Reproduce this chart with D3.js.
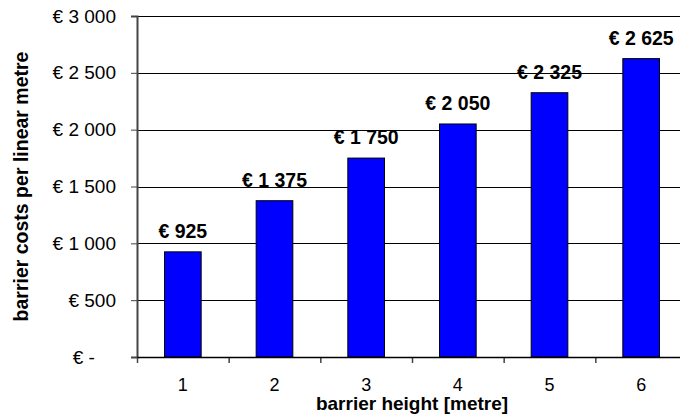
<!DOCTYPE html>
<html>
<head>
<meta charset="utf-8">
<script src="https://cdn.jsdelivr.net/npm/d3@7"></script>
<style>
  body { margin: 0; background: #fff; }
  svg { display: block; font-family: "Liberation Sans", Arial, sans-serif; }
</style>
</head>
<body>
<svg width="680" height="419"></svg>
<script>
// barrier height [metre] -> cost per linear metre
const heights = [1, 2, 3, 4, 5, 6];
const costs = [925, 1375, 1750, 2050, 2325, 2625];
const yTicks = [0, 500, 1000, 1500, 2000, 2500, 3000];

const svg = d3.select("svg");
const margin = {top: 16, right: -7, bottom: 62, left: 137};
const width = +svg.attr("width");
const height = +svg.attr("height");

const x = d3.scaleBand()
    .domain(heights)
    .range([margin.left, width - margin.right])
    .paddingInner(0.6)
    .paddingOuter(0.3);
// category edges, used for the tick marks between bars
const xEdge = d3.scaleLinear()
    .domain([0.5, heights.length + 0.5])
    .range([margin.left, width - margin.right]);
const y = d3.scaleLinear()
    .domain([0, 3000])
    .range([height - margin.bottom, margin.top]);

const euro = v => v === 0 ? "€ -" : "€ " + d3.format(",")(v).replace(/,/g, " ");

// gridlines
svg.append("g")
    .selectAll("line")
    .data(yTicks.filter(d => d > 0))
    .join("line")
    .attr("x1", margin.left)
    .attr("x2", width - margin.right)
    .attr("y1", d => Math.round(y(d)) + 0.5)
    .attr("y2", d => Math.round(y(d)) + 0.5)
    .attr("stroke", "#000")
    .attr("stroke-width", 1);

// bars
svg.append("g")
    .selectAll("rect")
    .data(costs)
    .join("rect")
    .attr("x", (d, i) => x(heights[i]))
    .attr("y", d => y(d))
    .attr("width", x.bandwidth())
    .attr("height", d => y(0) - y(d))
    .attr("fill", "#0000ff")
    .attr("stroke", "#000")
    .attr("stroke-width", 1);

// value labels
svg.append("g")
    .selectAll("text")
    .data(costs)
    .join("text")
    .attr("x", (d, i) => x(heights[i]) + x.bandwidth() / 2)
    .attr("y", d => y(d) - 14)
    .attr("text-anchor", "middle")
    .style("font-size", "19.5px")
    .style("font-weight", "bold")
    .text(euro);

// y axis
const yAxis = svg.append("g")
    .attr("transform", `translate(${margin.left},0)`)
    .call(d3.axisLeft(y).tickValues(yTicks).tickSize(6).tickPadding(15).tickFormat(euro));
yAxis.select(".domain").attr("stroke", "#444").attr("stroke-width", 2);
yAxis.selectAll(".tick line").attr("stroke", "#444");
yAxis.selectAll("text")
    .style("font-size", "19px")
    .attr("fill", "#000")
    .attr("font-family", null);
// accounting format keeps the dash two digits in from the right
yAxis.selectAll(".tick text")
    .filter(d => d === 0)
    .append("tspan")
    .attr("fill-opacity", 0)
    .text("00");

// x axis: tick marks at category edges, labels under the bars
const xTickAxis = svg.append("g")
    .attr("transform", `translate(0,${y(0)})`)
    .call(d3.axisBottom(xEdge).tickValues(d3.range(0.5, heights.length + 1, 1)).tickSize(6).tickFormat(""));
xTickAxis.select(".domain").remove();
xTickAxis.selectAll(".tick line").attr("stroke", "#444").attr("stroke-width", 1.5);

const xAxis = svg.append("g")
    .attr("transform", `translate(0,${y(0)})`)
    .call(d3.axisBottom(x).tickSize(0).tickPadding(21));
xAxis.select(".domain").attr("stroke", "#000").attr("stroke-width", 1.5);
xAxis.selectAll("text")
    .style("font-size", "18px")
    .attr("fill", "#000")
    .attr("font-family", null);

// axis titles
svg.append("text")
    .attr("x", (margin.left + width - margin.right) / 2)
    .attr("y", 410)
    .attr("text-anchor", "middle")
    .style("font-size", "19px")
    .style("font-weight", "bold")
    .text("barrier height [metre]");

svg.append("text")
    .attr("transform", `translate(28,${(margin.top + height - margin.bottom) / 2}) rotate(-90)`)
    .attr("text-anchor", "middle")
    .style("font-size", "19.5px")
    .style("font-weight", "bold")
    .text("barrier costs per linear metre");
</script>
</body>
</html>
